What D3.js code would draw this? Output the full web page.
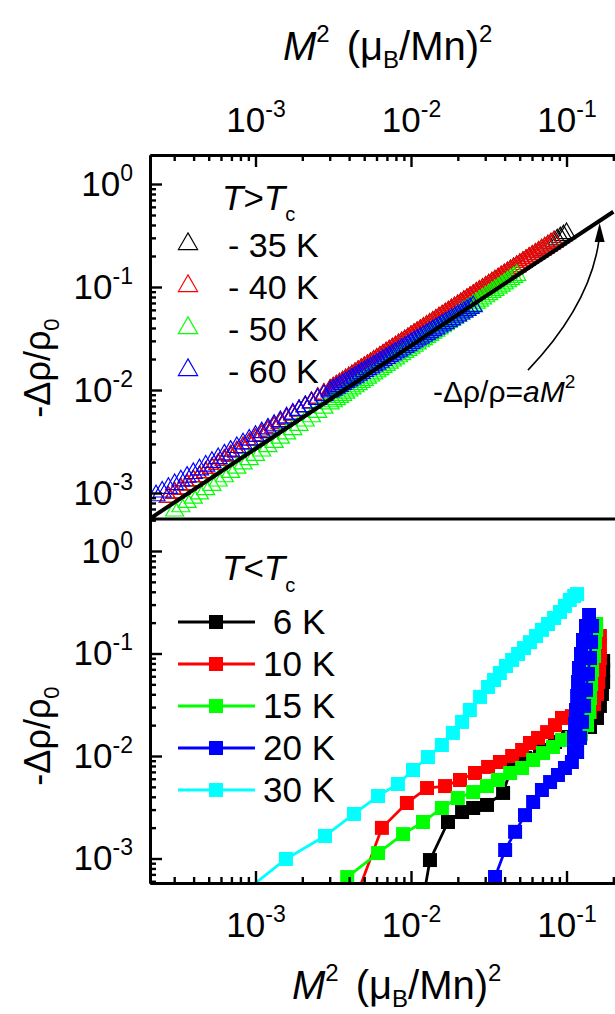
<!DOCTYPE html>
<html>
<head>
<meta charset="utf-8">
<script src="https://cdn.jsdelivr.net/npm/d3@7"></script>
<style>
  html, body { margin: 0; padding: 0; background: #fff; }
  svg { display: block; font-family: "Liberation Sans", Arial, sans-serif; }
</style>
</head>
<body>
<svg id="chart" width="615" height="1014"></svg>
<script>
// ---------- data ----------
// Axis limits
const xLimits = [2.097e-4, 0.256];          // M^2 (muB/Mn)^2, shared by both panels
const yLimitsTop = [5.593e-4, 1.912];       // -drho/rho0, T > Tc panel
const yLimitsBottom = [5.768e-4, 2.052];    // -drho/rho0, T < Tc panel

// T > Tc : M^2 sweep points shared by the four paramagnetic curves
const m2Grid = [
  2.291e-4, 2.512e-4, 2.754e-4, 3.020e-4, 3.311e-4, 3.631e-4, 3.981e-4, 4.365e-4, 4.786e-4, 5.248e-4,
  5.754e-4, 6.310e-4, 6.918e-4, 7.586e-4, 8.318e-4, 9.120e-4, 1.000e-3, 1.096e-3, 1.202e-3, 1.318e-3,
  1.445e-3, 1.585e-3, 1.738e-3, 1.905e-3, 2.089e-3, 2.291e-3, 2.512e-3, 2.754e-3, 3.020e-3,
  3.162e-3, 3.311e-3, 3.467e-3, 3.631e-3, 3.802e-3, 3.981e-3, 4.169e-3, 4.365e-3, 4.571e-3, 4.786e-3,
  5.012e-3, 5.248e-3, 5.495e-3, 5.754e-3, 6.026e-3, 6.310e-3, 6.607e-3, 6.918e-3, 7.244e-3, 7.586e-3,
  7.943e-3, 8.318e-3, 8.710e-3, 9.120e-3, 9.550e-3, 0.01, 0.01047, 0.01096, 0.01148, 0.01202,
  0.01259, 0.01318, 0.01380, 0.01445, 0.01514, 0.01585, 0.01660, 0.01738, 0.01820, 0.01905,
  0.01995, 0.02089, 0.02188, 0.02291, 0.02399, 0.02512, 0.02630, 0.02754, 0.02884, 0.03020,
  0.03162, 0.03311, 0.03467, 0.03631, 0.03802, 0.03981, 0.04169, 0.04365, 0.04571, 0.04786,
  0.05012, 0.05248, 0.05495, 0.05754, 0.06026, 0.06310, 0.06607, 0.06918, 0.07244, 0.07586,
  0.07943, 0.08318, 0.08710, 0.09120, 0.09550, 0.1];

const rho35K = [null, null,
  9.120e-4, 1.000e-3, 1.096e-3, 1.202e-3, 1.318e-3, 1.445e-3, 1.585e-3, 1.738e-3, 1.905e-3, 2.089e-3,
  2.291e-3, 2.512e-3, 2.754e-3, 3.020e-3, 3.311e-3, 3.631e-3, 3.981e-3, 4.365e-3, 4.786e-3, 5.248e-3,
  5.754e-3, 6.310e-3, 6.918e-3, 7.586e-3, 8.318e-3, 9.120e-3, 0.01,
  0.01047, 0.01096, 0.01148, 0.01202, 0.01259, 0.01318, 0.01380, 0.01445, 0.01514, 0.01585,
  0.01660, 0.01738, 0.01820, 0.01905, 0.01995, 0.02089, 0.02188, 0.02291, 0.02399, 0.02512,
  0.02630, 0.02754, 0.02884, 0.03020, 0.03162, 0.03311, 0.03467, 0.03631, 0.03802, 0.03981,
  0.04169, 0.04365, 0.04571, 0.04786, 0.05012, 0.05248, 0.05495, 0.05754, 0.06026, 0.06310,
  0.06607, 0.06918, 0.07244, 0.07586, 0.07943, 0.08318, 0.08710, 0.09120, 0.09550, 0.1,
  0.1047, 0.1096, 0.1148, 0.1202, 0.1259, 0.1318, 0.1380, 0.1445, 0.1514, 0.1585,
  0.1660, 0.1738, 0.1820, 0.1905, 0.1995, 0.2089, 0.2188, 0.2291, 0.2399, 0.2512,
  0.2630, 0.2754, 0.2884, 0.3020, 0.3162, 0.3311];

const rho40K = [null, null,
  9.120e-4, 1.000e-3, 1.096e-3, 1.202e-3, 1.318e-3, 1.445e-3, 1.585e-3, 1.738e-3, 1.905e-3, 2.089e-3,
  2.291e-3, 2.512e-3, 2.754e-3, 3.020e-3, 3.311e-3, 3.631e-3, 3.981e-3, 4.365e-3, 4.786e-3, 5.248e-3,
  5.754e-3, 6.310e-3, 6.918e-3, 7.586e-3, 8.318e-3, 9.120e-3, 0.01,
  0.01047, 0.01096, 0.01148, 0.01202, 0.01259, 0.01318, 0.01380, 0.01445, 0.01514, 0.01585,
  0.01660, 0.01738, 0.01820, 0.01905, 0.01995, 0.02089, 0.02188, 0.02291, 0.02399, 0.02512,
  0.02630, 0.02754, 0.02884, 0.03020, 0.03162, 0.03311, 0.03467, 0.03631, 0.03802, 0.03981,
  0.04169, 0.04365, 0.04571, 0.04786, 0.05012, 0.05248, 0.05495, 0.05754, 0.06026, 0.06310,
  0.06607, 0.06918, 0.07244, 0.07586, 0.07943, 0.08318, 0.08710, 0.09120, 0.09550, 0.1,
  0.1047, 0.1096, 0.1148, 0.1202, 0.1259, 0.1318, 0.1380, 0.1445, 0.1514, 0.1585,
  0.1660, 0.1738, 0.1820, 0.1905, 0.1995, 0.2089, 0.2188, 0.2291, 0.2399, 0.2512,
  0.2630, 0.2754, null, null, null, null];

const rho50K = [null, null, null,
  6.72e-4, 7.39e-4, 8.14e-4, 8.95e-4, 9.85e-4, 1.084e-3, 1.193e-3, 1.314e-3, 1.445e-3, 1.591e-3,
  1.751e-3, 1.927e-3, 2.120e-3, 2.333e-3, 2.568e-3, 2.826e-3, 3.110e-3, 3.423e-3, 3.767e-3, 4.146e-3,
  4.563e-3, 5.021e-3, 5.526e-3, 6.081e-3, 6.692e-3, 7.365e-3,
  7.727e-3, 8.105e-3, 8.502e-3, 8.92e-3, 9.358e-3, 9.82e-3, 0.01030, 0.01080, 0.01133, 0.01189,
  0.01247, 0.01309, 0.01373, 0.01440, 0.01511, 0.01585, 0.01663, 0.01745, 0.01830, 0.01920,
  0.02014, 0.02113, 0.02216, 0.02325, 0.02439, 0.02559, 0.02684, 0.02816, 0.02954, 0.03099,
  0.03251, 0.03410, 0.03578, 0.03753, 0.03937, 0.04130, 0.04333, 0.04546, 0.04769, 0.05003,
  0.05248, 0.05506, 0.05776, 0.06059, 0.06357, 0.06668, 0.06995, 0.07338, 0.07699, 0.08076,
  0.08472, 0.08888, 0.09324, 0.09781, 0.1026, 0.1076, 0.1129, 0.1185, 0.1243, 0.1304,
  null, null, null, null, null, null, null, null, null, null, null, null, null, null, null, null];

const rho60K = [
  9.45e-4, 1.027e-3, 1.116e-3, 1.212e-3, 1.317e-3, 1.430e-3, 1.554e-3, 1.688e-3, 1.834e-3, 1.993e-3,
  2.165e-3, 2.352e-3, 2.556e-3, 2.777e-3, 3.017e-3, 3.277e-3, 3.561e-3, 3.868e-3, 4.203e-3, 4.566e-3,
  4.960e-3, 5.389e-3, 5.855e-3, 6.361e-3, 6.911e-3, 7.507e-3, 8.156e-3, 8.861e-3, 9.627e-3,
  0.01003, 0.01046, 0.01090, 0.01136, 0.01184, 0.01234, 0.01287, 0.01341, 0.01398, 0.01457,
  0.01519, 0.01583, 0.01650, 0.01720, 0.01793, 0.01868, 0.01948, 0.02030, 0.02116, 0.02205,
  0.02299, 0.02396, 0.02497, 0.02603, 0.02713, 0.02828, 0.02948, 0.03073, 0.03203, 0.03338,
  0.03479, 0.03627, 0.03780, 0.03940, 0.04107, 0.04281, 0.04462, 0.04651, 0.04847, 0.05052,
  0.05266, 0.05489, 0.05721, 0.05963, 0.06215, 0.06479,
  null, null, null, null, null, null, null, null, null, null, null, null, null, null, null,
  null, null, null, null, null, null, null, null, null, null, null, null, null, null, null];

const aboveLabels = ["- 35 K", "- 40 K", "- 50 K", "- 60 K"];
const aboveColors = ["#000000", "#ff0000", "#00ff00", "#0000ff"];

// Fit: -drho/rho = a M^2
const fitA = 2.69;
const fitM2 = [2.1e-4, 0.2];

// Label arrow for the fit, in data units (M^2, -drho/rho)
const arrowStart = [0.0565, 0.0156];
const arrowCtrl = [0.1416, 0.0668];
const arrowEnd = [0.1618, 0.286];
const arrowTip = [0.1633, 0.418];

// T < Tc : each curve has its own M^2 points
const m2_6K = [0.01194, 0.01324, 0.0173, 0.0213, 0.0251, 0.0308, 0.0391, 0.0447, 0.0541, 0.0676,
  0.0843, 0.1023, 0.1222, 0.1416, 0.157, 0.164, 0.169, 0.172, 0.172, 0.172];
const rho_6K = [0.000394, 0.000966, 0.00227, 0.00284, 0.00311, 0.00333, 0.00436, 0.00817, 0.00955, 0.01145,
  0.0137, 0.0153, 0.0171, 0.0192, 0.0235, 0.0308, 0.0403, 0.0527, 0.0690, 0.0845];

const m2_10K = [0.00437, 0.0065, 0.00941, 0.01268, 0.01656, 0.02065, 0.0258, 0.0313, 0.0373, 0.0447,
  0.0518, 0.0582, 0.0656, 0.0750, 0.0843, 0.0935, 0.1083, 0.1259, 0.1416, 0.1503,
  0.157, 0.160, 0.162, 0.164, 0.164, 0.164];
const rho_10K = [0.000394, 0.00199, 0.00348, 0.00487, 0.00509, 0.00583, 0.00683, 0.00782, 0.00874, 0.0100,
  0.01145, 0.0134, 0.0150, 0.0171, 0.0200, 0.0235, 0.0245, 0.0257, 0.0269, 0.0322,
  0.0403, 0.0527, 0.0690, 0.0904, 0.1184, 0.148];

const m2_15K = [0.00389, 0.00614, 0.00889, 0.01194, 0.0158, 0.0200, 0.0251, 0.0308, 0.0362, 0.0434,
  0.0518, 0.0610, 0.0706, 0.0818, 0.0935, 0.1083, 0.1239, 0.1355, 0.1396, 0.1416,
  0.1439, 0.146, 0.1503, 0.1524, 0.155, 0.155];
const rho_15K = [0.000659, 0.00113, 0.00173, 0.00227, 0.00311, 0.00389, 0.00445, 0.00509, 0.00583, 0.00683,
  0.00764, 0.00914, 0.01069, 0.01225, 0.01433, 0.0150, 0.0164, 0.0200, 0.0269, 0.0368,
  0.0504, 0.0690, 0.0946, 0.1295, 0.170, 0.194];

const m2_20K = [0.0347, 0.0403, 0.0467, 0.0541, 0.0610, 0.0695, 0.0784, 0.0881, 0.0977, 0.1083,
  0.1117, 0.1117, 0.1135, 0.1151, 0.117, 0.1186, 0.1202, 0.1239, 0.1276, 0.1334, 0.1396,
  0.146, 0.1439, 0.1416, 0.1374, 0.1334, 0.1297, 0.1259, 0.1222, 0.117];
const rho_20K = [0.00066, 0.00121, 0.00182, 0.00265, 0.00356, 0.00466, 0.00557, 0.00653, 0.00764, 0.00874,
  0.01094, 0.0150, 0.0205, 0.0281, 0.0385, 0.0527, 0.0722, 0.0989, 0.1355, 0.1855, 0.2375,
  0.1855, 0.1295, 0.0904, 0.0631, 0.0441, 0.0308, 0.0215, 0.0150, 0.01094];

const m2_30K = [0.00080, 0.00157, 0.0028, 0.0043, 0.00614, 0.00824, 0.0103, 0.01285, 0.0158, 0.0186,
  0.0213, 0.0239, 0.0278, 0.0313, 0.0342, 0.0373, 0.0408, 0.0447, 0.0488, 0.0533,
  0.0582, 0.0637, 0.0695, 0.0760, 0.0832, 0.0908, 0.0977, 0.105, 0.112, 0.117];
const rho_30K = [0.00044, 0.00099, 0.00166, 0.00272, 0.00407, 0.00533, 0.0073, 0.00977, 0.0128, 0.0168,
  0.0215, 0.0281, 0.0377, 0.0471, 0.0551, 0.0645, 0.0755, 0.0865, 0.0989, 0.113,
  0.129, 0.148, 0.170, 0.194, 0.222, 0.254, 0.291, 0.333, 0.364, 0.380];

const belowLabels = ["6 K", "10 K", "15 K", "20 K", "30 K"];
const belowColors = ["#000000", "#ff0000", "#00ff00", "#0000ff", "#00ffff"];

// ---------- layout ----------
const frameLeft = 150, frameRight = 630;
const topY0 = 155, midY = 519, botY1 = 883;
const tickFont = 35, supFont = 23, supRise = 15;
const titleFont = 36;

const svg = d3.select("#chart");

const x = d3.scaleLog().domain(xLimits).range([frameLeft, frameRight]);
const yTop = d3.scaleLog().domain(yLimitsTop).range([midY, topY0]);
const yBot = d3.scaleLog().domain(yLimitsBottom).range([botY1, midY]);

function logTicks(domain) {
  const lo = domain[0], hi = domain[1], major = [], minor = [];
  for (let e = -6; e <= 2; e++) {
    for (let m = 1; m <= 9; m++) {
      const v = m * Math.pow(10, e);
      if (v < lo * 0.9999 || v > hi * 1.0001) continue;
      (m === 1 ? major : minor).push(v);
    }
  }
  return { major, minor };
}

function powLabels(sel) {
  sel.selectAll(".tick text").each(function (d) {
    const t = d3.select(this);
    const e = Math.round(Math.log10(d));
    t.text(null);
    t.append("tspan").text("10");
    t.append("tspan").attr("font-size", supFont).attr("dy", -supRise).text(e);
  });
}

function styleAxis(g) {
  g.attr("font-family", null).attr("font-size", null);
  g.selectAll(".domain").attr("stroke", "#000").attr("stroke-width", 3);
  g.selectAll(".tick line").attr("stroke", "#000").attr("stroke-width", 2.4);
  g.selectAll(".tick text").attr("fill", "#000").attr("font-size", tickFont);
}

function drawAxis(axisFn, scale, transform, domain, labelPad) {
  const t = logTicks(domain);
  const gMin = svg.append("g").attr("transform", transform)
    .call(axisFn(scale).tickValues(t.minor).tickSize(-6).tickSizeOuter(0).tickFormat(""));
  styleAxis(gMin);
  const gMaj = svg.append("g").attr("transform", transform)
    .call(axisFn(scale).tickValues(t.major).tickSize(-12).tickSizeOuter(0).tickPadding(labelPad)
      .tickFormat(d => String(d)));
  styleAxis(gMaj);
  powLabels(gMaj);
  return gMaj;
}

// ---------- clip regions ----------
const defs = svg.append("defs");
defs.append("clipPath").attr("id", "clipTop").append("rect")
  .attr("x", frameLeft).attr("y", topY0).attr("width", 615 - frameLeft).attr("height", midY - topY0);
defs.append("clipPath").attr("id", "clipBot").append("rect")
  .attr("x", frameLeft).attr("y", midY).attr("width", 615 - frameLeft).attr("height", botY1 - midY);

// ---------- T > Tc panel ----------
const gTop = svg.append("g").attr("clip-path", "url(#clipTop)");
const triData = [rho35K, rho40K, rho50K, rho60K];
const tri = d3.symbol().type(d3.symbolTriangle).size(140);
triData.forEach((vals, k) => {
  const pts = m2Grid.map((m, i) => [m, vals[i]]).filter(p => p[1] != null);
  gTop.append("g").selectAll("path").data(pts).join("path")
    .attr("d", tri)
    .attr("transform", d => `translate(${x(d[0])},${yTop(d[1])})`)
    .attr("fill", "none")
    .attr("stroke", aboveColors[k])
    .attr("stroke-width", 1.2);
});

// fitted line
gTop.append("path")
  .datum(fitM2.map(m => [m, fitA * m]))
  .attr("d", d3.line().x(d => x(d[0])).y(d => yTop(d[1])))
  .attr("fill", "none").attr("stroke", "#000").attr("stroke-width", 4);

// annotation arrow
const arrowPath = d3.path();
arrowPath.moveTo(x(arrowStart[0]), yTop(arrowStart[1]));
arrowPath.quadraticCurveTo(x(arrowCtrl[0]), yTop(arrowCtrl[1]), x(arrowEnd[0]), yTop(arrowEnd[1]));
svg.append("path").attr("d", arrowPath.toString())
  .attr("fill", "none").attr("stroke", "#000").attr("stroke-width", 1.6);
{
  const tx = x(arrowTip[0]), ty = yTop(arrowTip[1]);
  const by = yTop(arrowEnd[1]) + 2;
  svg.append("path")
    .attr("d", `M${tx},${ty} L${tx - 5},${by} L${tx + 5},${by} Z`)
    .attr("fill", "#000");
}

// fit label
{
  const t = svg.append("text").attr("x", 433).attr("y", 402).attr("font-size", 30).attr("fill", "#000");
  t.append("tspan").text("-Δρ/ρ=");
  t.append("tspan").attr("font-style", "italic").text("aM");
  t.append("tspan").attr("font-size", 19).attr("dy", -14).attr("dx", 0).text("2");
}

// legend (T > Tc)
{
  const t = svg.append("text").attr("x", 222).attr("y", 210).attr("font-size", 35).attr("fill", "#000");
  t.append("tspan").attr("font-style", "italic").text("T");
  t.append("tspan").text(">");
  t.append("tspan").attr("font-style", "italic").text("T");
  t.append("tspan").attr("font-size", 20).attr("dy", 11).text("c");
  const legTri = d3.symbol().type(d3.symbolTriangle).size(160);
  aboveLabels.forEach((lab, k) => {
    const cy = 244 + k * 42;
    svg.append("path").attr("d", legTri).attr("transform", `translate(188,${cy})`)
      .attr("fill", "none").attr("stroke", aboveColors[k]).attr("stroke-width", 1.2);
    svg.append("text").attr("x", 228).attr("y", cy + 13).attr("font-size", 34)
      .attr("fill", "#000").text(lab);
  });
}

// ---------- T < Tc panel ----------
const gBot = svg.append("g").attr("clip-path", "url(#clipBot)");
const belowM2 = [m2_6K, m2_10K, m2_15K, m2_20K, m2_30K];
const belowRho = [rho_6K, rho_10K, rho_15K, rho_20K, rho_30K];
const sq = d3.symbol().type(d3.symbolSquare).size(196);
const lineBot = d3.line().x(d => x(d[0])).y(d => yBot(d[1]));
belowM2.forEach((ms, k) => {
  const pts = ms.map((m, i) => [m, belowRho[k][i]]);
  const g = gBot.append("g");
  g.append("path").datum(pts).attr("d", lineBot)
    .attr("fill", "none").attr("stroke", belowColors[k]).attr("stroke-width", 2.8)
    .attr("stroke-linejoin", "round");
  g.selectAll("path.pt").data(pts).join("path").attr("class", "pt")
    .attr("d", sq)
    .attr("transform", d => `translate(${x(d[0])},${yBot(d[1])})`)
    .attr("fill", belowColors[k]);
});

// legend (T < Tc)
{
  const t = svg.append("text").attr("x", 222).attr("y", 580).attr("font-size", 35).attr("fill", "#000");
  t.append("tspan").attr("font-style", "italic").text("T");
  t.append("tspan").text("<");
  t.append("tspan").attr("font-style", "italic").text("T");
  t.append("tspan").attr("font-size", 20).attr("dy", 12).text("c");
  belowLabels.forEach((lab, k) => {
    const cy = 622 + k * 42;
    svg.append("line").attr("x1", 178).attr("x2", 255).attr("y1", cy).attr("y2", cy)
      .attr("stroke", belowColors[k]).attr("stroke-width", 2.8);
    svg.append("path").attr("d", sq).attr("transform", `translate(216,${cy})`)
      .attr("fill", belowColors[k]);
    svg.append("text").attr("x", 299).attr("y", cy + 12).attr("font-size", 35)
      .attr("text-anchor", "middle").attr("fill", "#000").text(lab);
  });
}

// ---------- axes & frame ----------
drawAxis(d3.axisTop, x, `translate(0,${topY0})`, xLimits, 23);
drawAxis(d3.axisLeft, yTop, `translate(${frameLeft},0)`, yLimitsTop, 17);
drawAxis(d3.axisLeft, yBot, `translate(${frameLeft},0)`, yLimitsBottom, 17);
drawAxis(d3.axisBottom, x, `translate(0,${botY1})`, xLimits, 29);

// panel divider
svg.append("line").attr("x1", frameLeft).attr("x2", frameRight).attr("y1", midY).attr("y2", midY)
  .attr("stroke", "#000").attr("stroke-width", 3);

// axis titles
function xTitle(x0, y0) {
  const t = svg.append("text").attr("x", x0).attr("y", y0).attr("font-size", 40).attr("fill", "#000");
  t.append("tspan").attr("font-style", "italic").text("M");
  t.append("tspan").attr("font-size", 24).attr("dy", -18).text("2");
  t.append("tspan").attr("dy", 18).attr("dx", 17).text("(μ");
  t.append("tspan").attr("font-size", 24).attr("dy", 8).text("B");
  t.append("tspan").attr("dy", -8).text("/Mn)");
  t.append("tspan").attr("font-size", 24).attr("dy", -18).text("2");
}
xTitle(283, 60);
xTitle(292, 999);

function yTitle(cx, cy) {
  const t = svg.append("text").attr("transform", `translate(${cx},${cy}) rotate(-90)`)
    .attr("text-anchor", "middle").attr("font-size", titleFont).attr("fill", "#000");
  t.append("tspan").text("-Δρ/ρ");
  t.append("tspan").attr("font-size", 22).attr("dy", 9).text("0");
}
yTitle(50, 368);
yTitle(50, 736);
</script>
</body>
</html>
